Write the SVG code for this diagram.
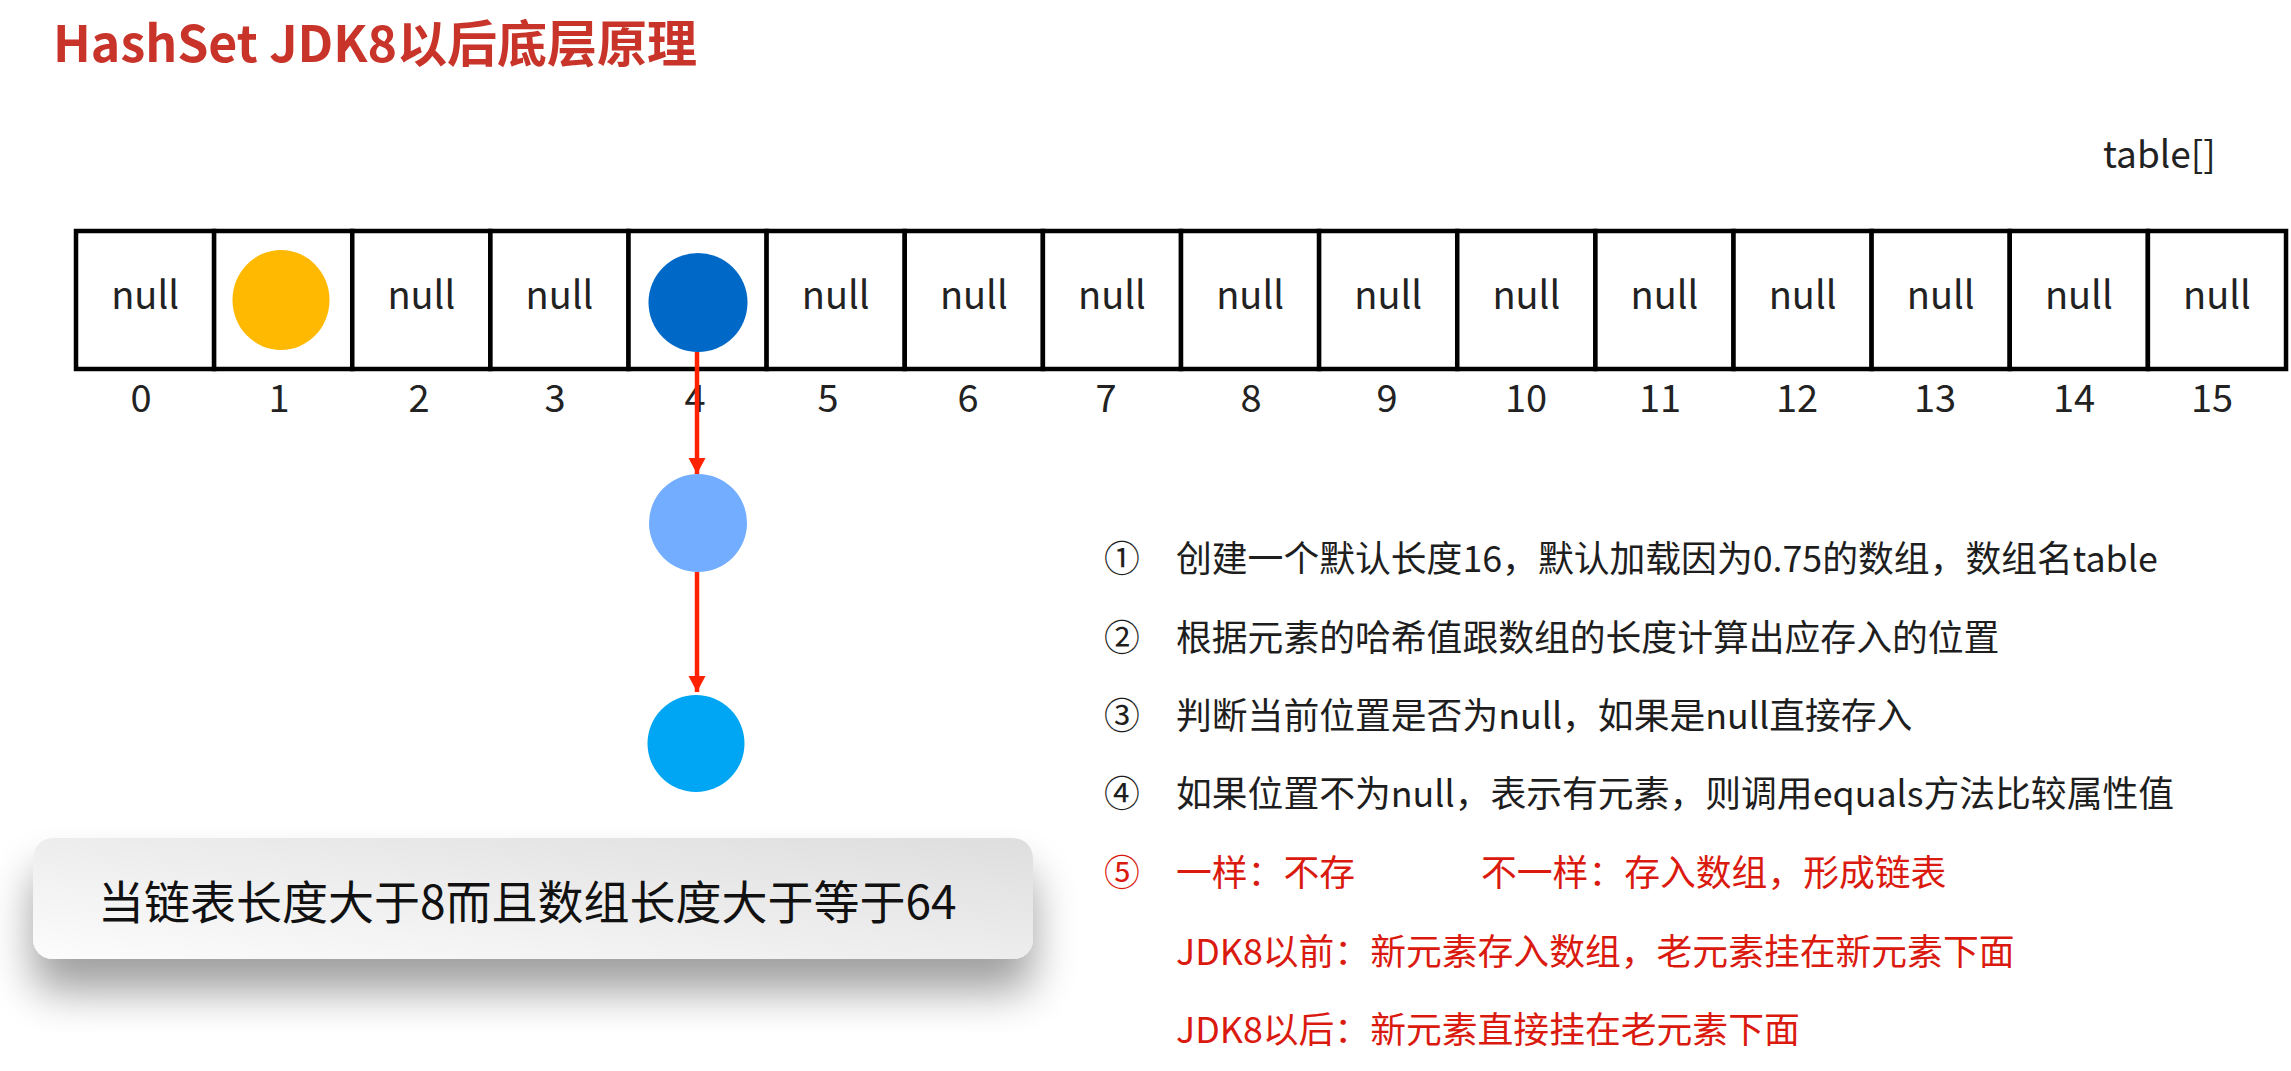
<svg xmlns="http://www.w3.org/2000/svg" width="2291" height="1071" viewBox="0 0 2291 1071">
  <style>
    .title { font-family: "Noto Sans CJK SC", "Noto Sans", sans-serif; font-weight: bold; font-size: 50px; fill: #C8342A; }
    .cell { fill: #FFFFFF; stroke: #000000; stroke-width: 4.5; }
    .null { font-family: "Noto Sans CJK SC", "Noto Sans", sans-serif; font-size: 38px; fill: #222222; text-anchor: middle; }
    .idx { font-family: "Noto Sans CJK SC", "Noto Sans", sans-serif; font-size: 38px; fill: #222222; text-anchor: middle; }
    .lbl { font-family: "Noto Sans CJK SC", "Noto Sans", sans-serif; font-size: 37px; fill: #222222; }
    .body { font-family: "Noto Sans CJK SC", "Noto Sans", sans-serif; font-size: 35.8px; fill: #1E1E1E; }
    .num { font-family: "Noto Sans CJK SC", "Noto Sans", sans-serif; font-size: 35.8px; fill: #1E1E1E; text-anchor: middle; }
    .red { fill: #DA1A0E; }
    .note { font-family: "Noto Sans CJK SC", "Noto Sans", sans-serif; font-size: 46px; fill: #111111; }
    .conn { stroke: #FF2200; stroke-width: 4.5; fill: none; marker-end: url(#arrow); }
  </style>
  <defs>
    <marker id="arrow" markerUnits="userSpaceOnUse" markerWidth="18" markerHeight="18" refX="16" refY="8.5" orient="auto">
      <path d="M0,0 L16,8.5 L0,17 Z" fill="#FF2200"/>
    </marker>
    <linearGradient id="boxfill" x1="0" y1="1" x2="1" y2="0">
      <stop offset="0" stop-color="#FCFCFC"/>
      <stop offset="1" stop-color="#DEDEDE"/>
    </linearGradient>
    <filter id="shadow" x="-10%" y="-40%" width="120%" height="200%">
      <feGaussianBlur in="SourceAlpha" stdDeviation="22"/>
      <feOffset dx="0" dy="32" result="b"/>
      <feComponentTransfer><feFuncA type="linear" slope="0.38"/></feComponentTransfer>
      <feMerge><feMergeNode/><feMergeNode in="SourceGraphic"/></feMerge>
    </filter>
  </defs>

  <rect width="2291" height="1071" fill="#FFFFFF"/>

  <text id="title" class="title" x="53" y="62">HashSet JDK8以后底层原理</text>
  <text id="table-label" class="lbl" x="2103" y="168">table[]</text>

  <g id="table">
    <g id="cell-0"><rect class="cell" x="76" y="231" width="138.125" height="138"/><text class="null" x="145.1" y="309">null</text></g>
    <g id="cell-1"><rect class="cell" x="214.1" y="231" width="138.125" height="138"/></g>
    <g id="cell-2"><rect class="cell" x="352.25" y="231" width="138.125" height="138"/><text class="null" x="421.3" y="309">null</text></g>
    <g id="cell-3"><rect class="cell" x="490.4" y="231" width="138.125" height="138"/><text class="null" x="559.4" y="309">null</text></g>
    <g id="cell-4"><rect class="cell" x="628.5" y="231" width="138.125" height="138"/></g>
    <g id="cell-5"><rect class="cell" x="766.6" y="231" width="138.125" height="138"/><text class="null" x="835.7" y="309">null</text></g>
    <g id="cell-6"><rect class="cell" x="904.75" y="231" width="138.125" height="138"/><text class="null" x="973.8" y="309">null</text></g>
    <g id="cell-7"><rect class="cell" x="1042.9" y="231" width="138.125" height="138"/><text class="null" x="1111.9" y="309">null</text></g>
    <g id="cell-8"><rect class="cell" x="1181" y="231" width="138.125" height="138"/><text class="null" x="1250.1" y="309">null</text></g>
    <g id="cell-9"><rect class="cell" x="1319.1" y="231" width="138.125" height="138"/><text class="null" x="1388.2" y="309">null</text></g>
    <g id="cell-10"><rect class="cell" x="1457.25" y="231" width="138.125" height="138"/><text class="null" x="1526.3" y="309">null</text></g>
    <g id="cell-11"><rect class="cell" x="1595.4" y="231" width="138.125" height="138"/><text class="null" x="1664.4" y="309">null</text></g>
    <g id="cell-12"><rect class="cell" x="1733.5" y="231" width="138.125" height="138"/><text class="null" x="1802.6" y="309">null</text></g>
    <g id="cell-13"><rect class="cell" x="1871.6" y="231" width="138.125" height="138"/><text class="null" x="1940.7" y="309">null</text></g>
    <g id="cell-14"><rect class="cell" x="2009.75" y="231" width="138.125" height="138"/><text class="null" x="2078.8" y="309">null</text></g>
    <g id="cell-15"><rect class="cell" x="2147.9" y="231" width="138.125" height="138"/><text class="null" x="2216.9" y="309">null</text></g>
  </g>

  <g id="indexes">
    <text class="idx" x="141" y="412">0</text>
    <text class="idx" x="279" y="412">1</text>
    <text class="idx" x="419" y="412">2</text>
    <text class="idx" x="555" y="412">3</text>
    <text class="idx" x="695" y="412">4</text>
    <text class="idx" x="828" y="412">5</text>
    <text class="idx" x="968" y="412">6</text>
    <text class="idx" x="1106" y="412">7</text>
    <text class="idx" x="1251" y="412">8</text>
    <text class="idx" x="1387" y="412">9</text>
    <text class="idx" x="1526" y="412">10</text>
    <text class="idx" x="1660" y="412">11</text>
    <text class="idx" x="1797" y="412">12</text>
    <text class="idx" x="1935" y="412">13</text>
    <text class="idx" x="2074" y="412">14</text>
    <text class="idx" x="2212" y="412">15</text>
  </g>

  <g id="node-yellow"><ellipse cx="281" cy="300" rx="48.5" ry="50" fill="#FFB900"/></g>
  <g id="node-blue"><ellipse cx="698" cy="302.5" rx="49.5" ry="49.5" fill="#0068C6"/></g>
  <g id="node-lightblue"><circle cx="698" cy="523" r="49" fill="#72ADFF"/></g>
  <g id="node-cyan"><circle cx="696" cy="743.5" r="48.5" fill="#00A5F3"/></g>

  <g id="connectors">
    <line class="conn" x1="697" y1="352" x2="697" y2="474"/>
    <line class="conn" x1="697" y1="572" x2="697" y2="692"/>
  </g>

  <g id="steps">
    <text class="num" x="1122" y="572">①</text>
    <text class="body" x="1176" y="572">创建一个默认长度16，默认加载因为0.75的数组，数组名table</text>
    <text class="num" x="1122" y="651">②</text>
    <text class="body" x="1176" y="651">根据元素的哈希值跟数组的长度计算出应存入的位置</text>
    <text class="num" x="1122" y="729">③</text>
    <text class="body" x="1176" y="729">判断当前位置是否为null，如果是null直接存入</text>
    <text class="num" x="1122" y="807">④</text>
    <text class="body" x="1176" y="807">如果位置不为null，表示有元素，则调用equals方法比较属性值</text>
    <text class="num red" x="1122" y="886">⑤</text>
    <text class="body red" x="1176" y="886">一样：不存</text>
    <text class="body red" x="1481" y="886">不一样：存入数组，形成链表</text>
    <text class="body red" x="1176" y="965">JDK8以前：新元素存入数组，老元素挂在新元素下面</text>
    <text class="body red" x="1176" y="1043">JDK8以后：新元素直接挂在老元素下面</text>
  </g>

  <g id="note">
    <rect x="33" y="838" width="1000" height="121" rx="20" ry="20" fill="url(#boxfill)" filter="url(#shadow)"/>
    <text class="note" x="98" y="919">当链表长度大于8而且数组长度大于等于64</text>
  </g>
</svg>
